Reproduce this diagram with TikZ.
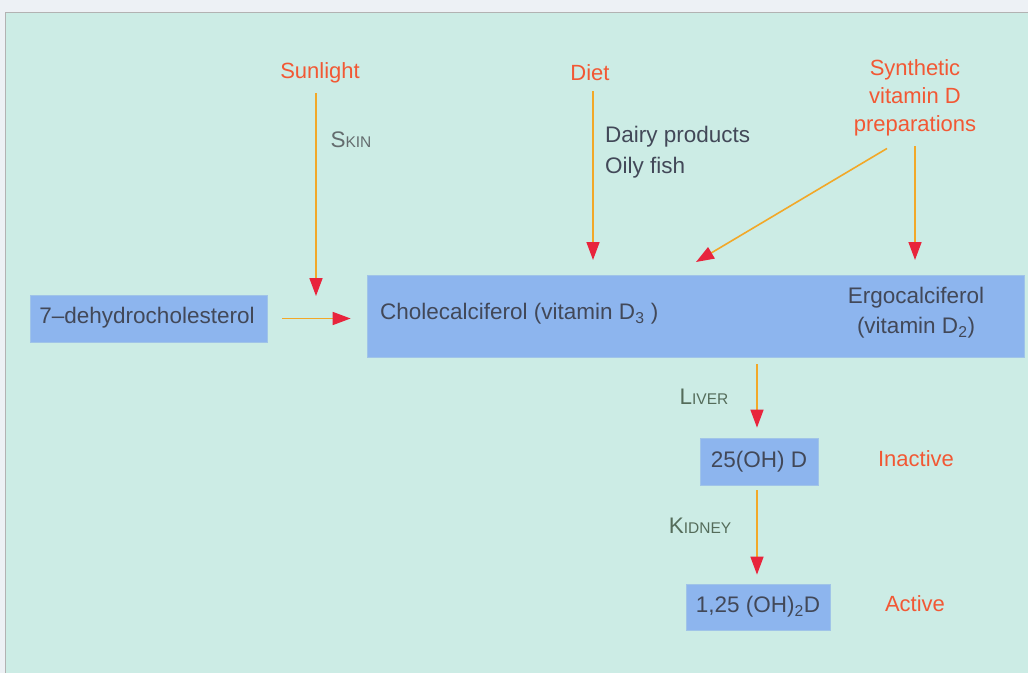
\documentclass[tikz,border=0pt]{standalone}
\usepackage{fontspec}
\setmainfont{Liberation Sans}
\usetikzlibrary{arrows.meta}
\definecolor{bgpanel}{RGB}{204,236,229}
\definecolor{bgtop}{RGB}{237,241,245}
\definecolor{boxblue}{RGB}{141,181,238}
\definecolor{boxedge}{RGB}{160,196,232}
\definecolor{txtdark}{RGB}{66,72,88}
\definecolor{txtorange}{RGB}{242,88,52}
\definecolor{lineor}{RGB}{242,168,40}
\definecolor{tipred}{RGB}{232,36,60}
\definecolor{sitegray}{RGB}{100,108,110}
\definecolor{sitegreen}{RGB}{84,108,90}
\newcommand\fsc[2]{#1{\fontsize{15.5}{15.5}\selectfont #2}}
\begin{document}
\begin{tikzpicture}[x=1pt,y=-1pt,
  every node/.style={font=\fontsize{22.5}{30}\selectfont, inner sep=0pt},
  bluebox/.style={fill=boxblue, draw=boxedge, line width=0.8pt, text=txtdark},
  srclabel/.style={text=txtorange, align=center, font=\fontsize{22}{28}\selectfont},
  sitelabel/.style={text=sitegray},
  info/.style={text=txtdark, anchor=west},
  arr/.style={draw=lineor, line width=1.6pt, -{Triangle[length=18pt,width=13pt,color=tipred]}}]
\useasboundingbox (0,0) rectangle (1028,673);
\fill[bgtop] (0,0) rectangle (1028,673);
\fill[bgpanel] (5,12) rectangle (1028,673);
\draw[gray!60, line width=0.6pt] (5,673) -- (5,12) -- (1028,12);

% boxes
\node[bluebox, minimum width=237pt, minimum height=47pt] (dehy) at (148.5,318.5) {};
\node[txtdark] (dehytext) at (147,318) {7--dehydrocholesterol};
\node[bluebox, minimum width=657pt, minimum height=82pt] (chole) at (695.5,316) {};
\node[info] (choletext) at (380,314) {Cholecalciferol (vitamin D\textsubscript{3} )};
\node[txtdark, align=center] (ergo) at (916,313) {Ergocalciferol\\(vitamin D\textsubscript{2})};
\node[bluebox, minimum width=118pt, minimum height=47pt] (oh25) at (759,461.5) {25(OH) D};
\node[bluebox, minimum width=144pt, minimum height=46pt] (oh125) at (758,607) {1,25 (OH)\textsubscript{2}D};

% sources
\node[srclabel] (sun) at (320,73) {Sunlight};
\node[srclabel] (diet) at (590,73) {Diet};
\node[srclabel] (synth) at (915,98) {Synthetic\\vitamin D\\preparations};

% site / info labels
\node[sitelabel] (skin) at (351,140) {\fsc{S}{KIN}};
\node[info] (dairy) at (605,137) {Dairy products};
\node[info] (oily) at (605,168) {Oily fish};
\node[sitelabel, text=sitegreen] (liver) at (704,397) {\fsc{L}{IVER}};
\node[sitelabel, text=sitegreen] (kidney) at (700,526) {\fsc{K}{IDNEY}};
\node[srclabel] (inactive) at (916,459) {Inactive};
\node[srclabel] (active) at (915,604) {Active};

% free ends
\coordinate (sunend) at (316,296);
\coordinate (dietend) at (593,260);
\coordinate (diagend) at (696,262);
\coordinate (synthend) at (915,260);
\coordinate (axis) at (757,0);

% connectors
\draw[arr] ([yshift=-10pt]sun.south -| sunend) -- (sunend);
\draw[arr] ([yshift=-10pt]diet.south -| dietend) -- (dietend);
\draw[arr] ([shift={(-28,12)}]synth.south) -- (diagend);
\draw[arr] ([yshift=-10pt]synth.south -| synthend) -- (synthend);
\draw[arr] ([xshift=15pt]dehy.east) -- ([xshift=-16pt]dehy.east -| chole.west);
\draw[arr] ([yshift=-7pt]chole.south -| axis) -- ([yshift=10pt]oh25.north -| axis);
\draw[arr] ([yshift=-5pt]oh25.south -| axis) -- ([yshift=9pt]oh125.north -| axis);
\end{tikzpicture}
\end{document}
